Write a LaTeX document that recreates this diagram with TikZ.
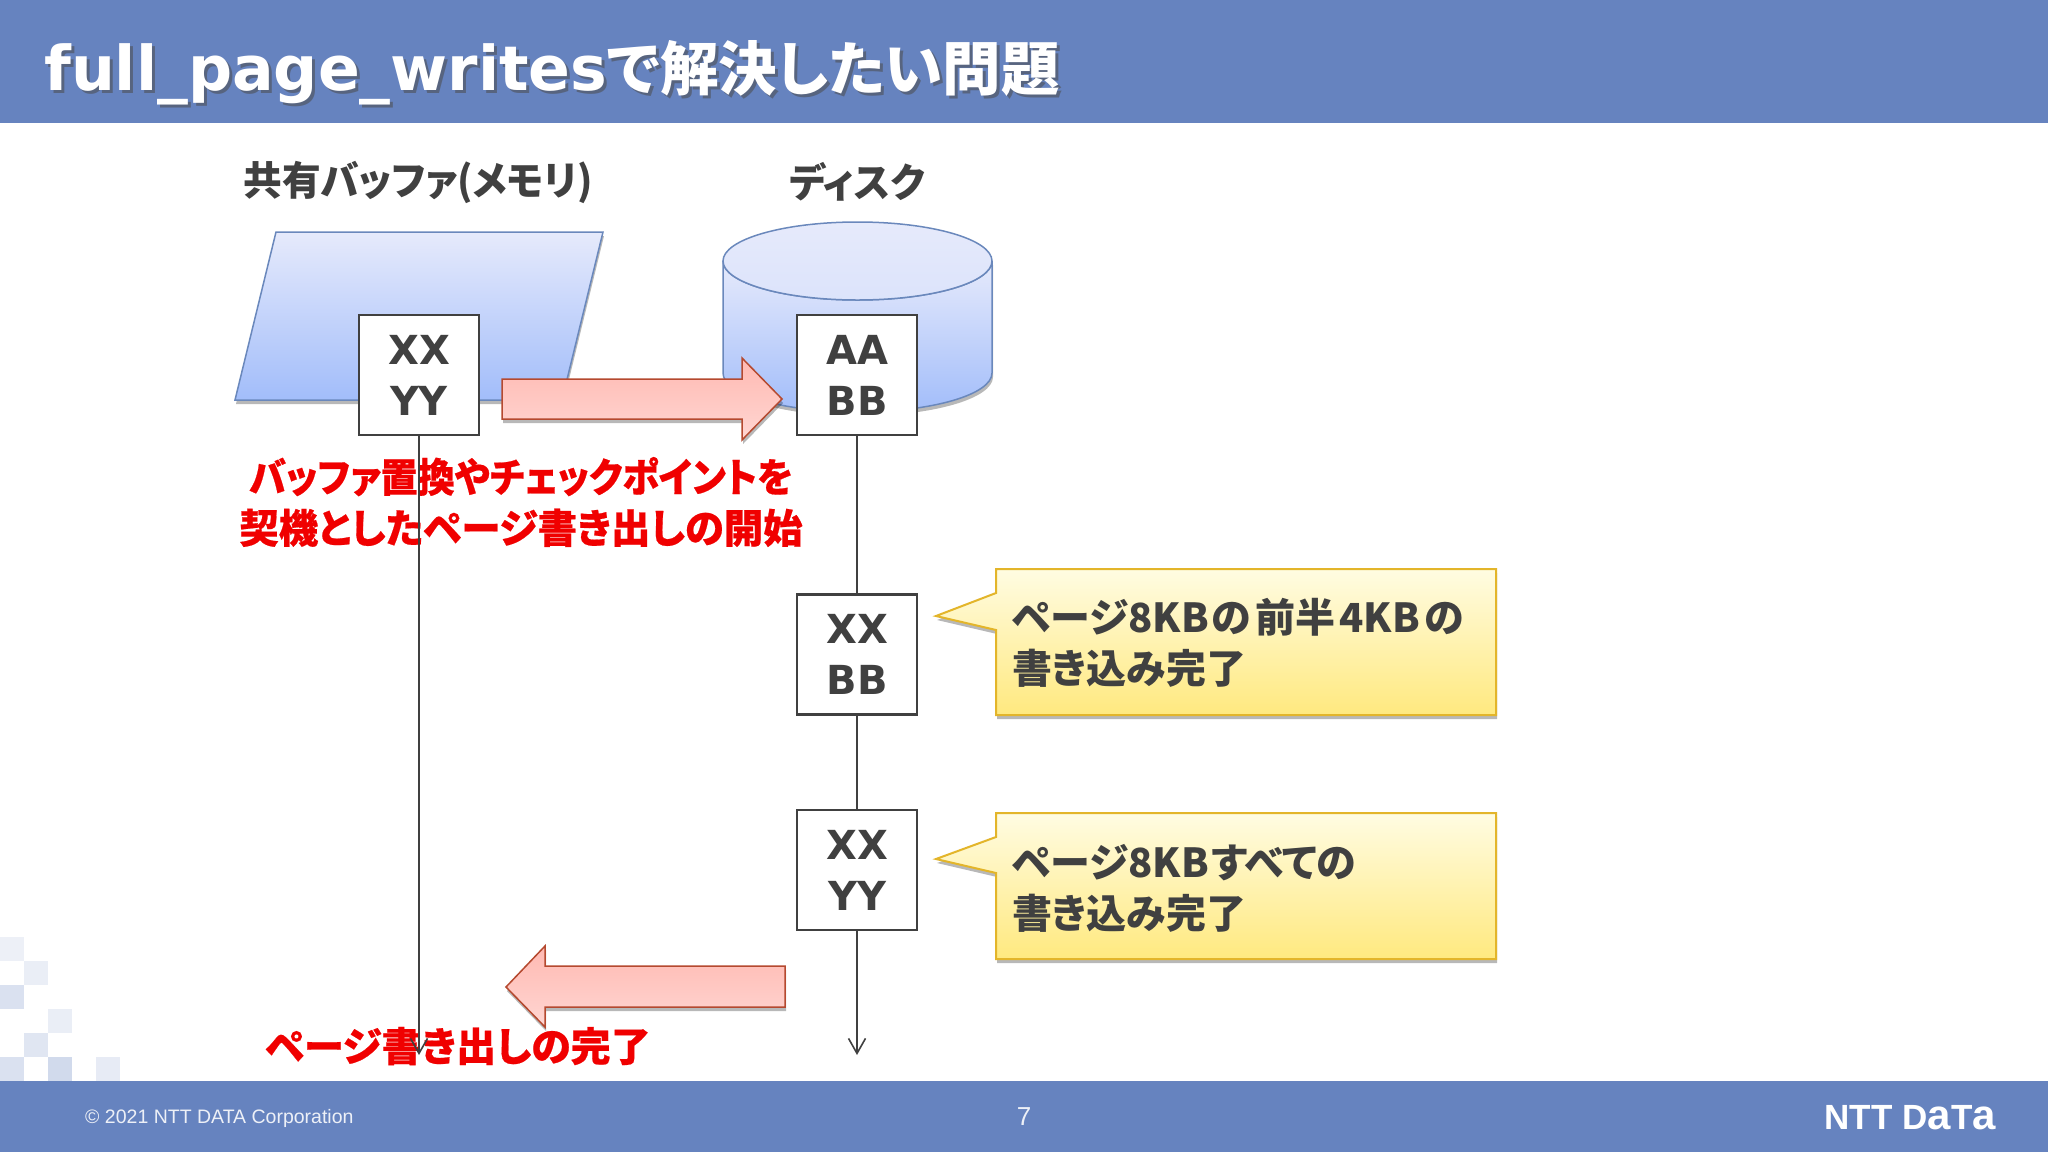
\documentclass[tikz,border=0pt]{standalone}
\usepackage{fontspec}
\usepackage{graphicx}
\usetikzlibrary{arrows.meta,shadows}
\setmainfont{Noto Sans CJK JP}[RawFeature=+palt]
\newfontfamily\footfont{Liberation Sans}
\newfontfamily\widefont{DejaVu Sans}
\newfontfamily\alertfont{Noto Sans CJK JP}[RawFeature=+palt,BoldFeatures={FakeBold=0.5}]
\definecolor{band}{HTML}{6683BF}
\definecolor{ink}{HTML}{404040}
\definecolor{alert}{HTML}{F00000}
\definecolor{bluetop}{HTML}{E6EAFB}
\definecolor{bluebot}{HTML}{A2BDFA}
\definecolor{blueline}{HTML}{6A88BC}
\definecolor{redtop}{HTML}{FFB9B2}
\definecolor{redbot}{HTML}{FFD6D2}
\definecolor{redline}{HTML}{B5492F}
\definecolor{goldtop}{HTML}{FFFCE2}
\definecolor{goldbot}{HTML}{FFE97F}
\definecolor{goldline}{HTML}{E3B52A}
\newcommand{\fsz}[2]{\fontsize{#1}{#2}\selectfont}
\newcommand{\narrowed}[2]{\scalebox{#1}[1]{#2}}
\newcommand{\titletext}{{\widefont\fsz{61.7}{66}\bfseries full\_page\_writes}で解決したい問題}
\tikzset{
  softshade/.style={drop shadow={shadow xshift=1pt,shadow yshift=-4pt,opacity=.28,fill=black}},
  bluefill/.style={top color=bluetop,bottom color=bluebot,draw=blueline,line width=1.5pt},
  redarrow/.style={top color=redtop,bottom color=redbot,draw=redline,line width=1.5pt,line join=miter,softshade},
  callout/.style={top color=goldtop,bottom color=goldbot,draw=goldline,line width=2pt,softshade},
  pagebox/.style={draw=ink,line width=2.5pt,fill=white,minimum width=120pt,minimum height=120pt,inner sep=0pt,text=ink,align=center,font=\widefont\fsz{40}{51}\bfseries},
  heading/.style={text=ink,inner sep=0pt,font=\fsz{40}{51}\bfseries},
  alerttext/.style={text=alert,inner sep=0pt,align=center,font=\alertfont\fsz{40}{51}\bfseries},
  notetext/.style={text=ink,inner sep=0pt,align=left,font=\fsz{40}{51}\bfseries},
  timeline/.style={draw=ink,line width=1.6pt},
  tile/.style={fill=#1,draw=none},
}
\begin{document}
\begin{tikzpicture}[x=1pt,y=-1pt]
\useasboundingbox (0,0) rectangle (2048,1152);
\fill[white] (0,0) rectangle (2048,1152);
% bands
\fill[band] (0,0) rectangle (2048,123);
\fill[band] (0,1081) rectangle (2048,1152);
% mosaic
\fill[tile=band!12] (0,937) rectangle (24,961);
\fill[tile=band!14] (24,961) rectangle (48,985);
\fill[tile=band!24] (0,985) rectangle (24,1009);
\fill[tile=band!14] (48,1009) rectangle (72,1033);
\fill[tile=band!20] (24,1033) rectangle (48,1057);
\fill[tile=band!24] (0,1057) rectangle (24,1081);
\fill[tile=band!30] (48,1057) rectangle (72,1081);
\fill[tile=band!16] (96,1057) rectangle (120,1081);
% title
\node[anchor=base west,inner sep=0pt,text=black!70,opacity=.55,font=\fsz{58.5}{60}\bfseries] (titleshade) at (47,93) {\titletext};
\node[anchor=base west,inner sep=0pt,text=white,font=\fsz{58.5}{60}\bfseries] (title) at (44,90) {\titletext};
% footer
\node[anchor=west,inner sep=0pt,text=white!88!band,font=\footfont\fsz{19.5}{24}] (copy) at (85,1118) {© 2021 NTT DATA Corporation};
\node[inner sep=0pt,text=white!88!band,font=\footfont\fsz{26}{28}] (pageno) at (1024,1117) {7};
\node[anchor=east,inner sep=0pt,text=white,font=\footfont\fsz{35}{36}\bfseries] (logo) at (1996,1118) {NTT D\scalebox{1.2}{a}T\scalebox{1.2}{a}};
% headings
\node[heading] (bufhead) at (418,182) {\narrowed{.967}{共有バッファ(メモリ)}};
\node[heading] (diskhead) at (857,182) {\narrowed{.963}{ディスク}};
% buffer shape
\path[bluefill,softshade] (276,232) -- (603,232) -- (562,400) -- (235,400) -- cycle;
% disk shape
\path[bluefill,softshade] (723,261) -- (723,373) arc[start angle=180,end angle=360,x radius=134.5,y radius=-39] -- (992,261) arc[start angle=0,end angle=180,x radius=134.5,y radius=39] -- cycle;
\path[top color=bluetop,bottom color=bluetop!85!bluebot,draw=blueline,line width=1.5pt] (857.5,261) ellipse[x radius=134.5,y radius=39];
% red text under lines
\node[alerttext] (starttext) at (521,502) {\narrowed{.93}{バッファ置換やチェックポイントを}\\\narrowed{.984}{契機としたページ書き出しの開始}};
\node[alerttext] (donetext) at (458,1046) {ページ書き出しの完了};
% arrows
\path[redarrow] (502,379) -- (742,379) -- (742,358) -- (782,399) -- (742,440) -- (742,419) -- (502,419) -- cycle;
\path[redarrow] (785,966) -- (545,966) -- (545,946) -- (506,987) -- (545,1027) -- (545,1007) -- (785,1007) -- cycle;
% callouts
\path[callout] (996,569) -- (1496,569) -- (1496,715) -- (996,715) -- (996,630) -- (936,616) -- (996,593) -- cycle;
\path[callout] (996,813) -- (1496,813) -- (1496,959) -- (996,959) -- (996,873) -- (936,859) -- (996,837) -- cycle;
\node[notetext,anchor=west] (noteA) at (1012,643) {ページ8KB\hspace{3pt}の\hspace{4pt}前半\hspace{4pt}4KB\hspace{5pt}の\\書き込み完了};
\node[notetext,anchor=west] (noteB) at (1012,888) {ページ8KB\hspace{2pt}すべての\\書き込み完了};
% page boxes
\node[pagebox] (bufpage) at (419,375) {XX\\YY};
\node[pagebox,yshift=0pt] (diskA) at (857,375) {AA\\BB};
\node[pagebox] (diskB) at (857,654.5) {XX\\BB};
\node[pagebox] (diskC) at (857,870) {XX\\YY};
% connectors
\coordinate (bufend) at (419,1055);
\coordinate (diskend) at (857,1055);
\draw[timeline,-{Straight Barb[length=15pt,width=17pt]}] (bufpage.south) -- (bufend);
\draw[timeline] (diskA.south) -- (diskB.north);
\draw[timeline] (diskB.south) -- (diskC.north);
\draw[timeline,-{Straight Barb[length=15pt,width=17pt]}] (diskC.south) -- (diskend);
\end{tikzpicture}
\end{document}
